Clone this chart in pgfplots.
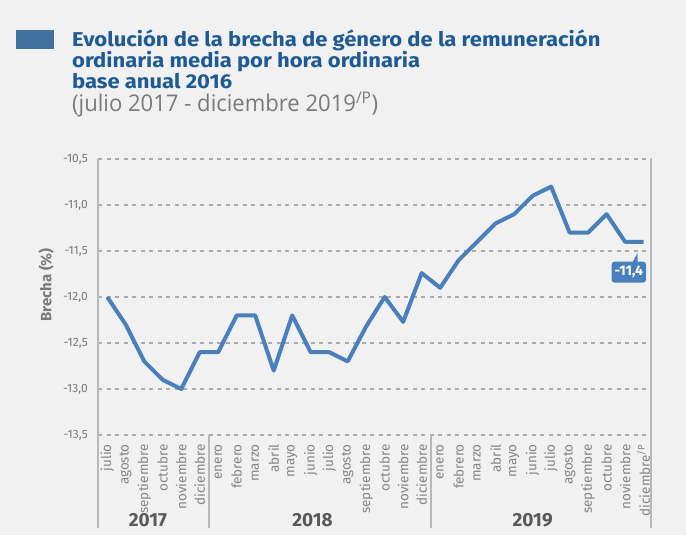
\documentclass[border=0pt]{standalone}
\usepackage{fontspec}
\setmainfont{Fira Sans}
\newfontfamily\titlefont[FakeStretch=1.1]{Fira Sans}
\newfontfamily\subfont[FakeStretch=0.96]{Open Sans}
\usepackage{pgfplots}
\pgfplotsset{compat=1.18}
\definecolor{bg}{HTML}{F1F1F1}
\definecolor{lineblue}{HTML}{4A7FBD}
\definecolor{titleblue}{HTML}{1E5B94}
\definecolor{squareblue}{HTML}{41709E}
\definecolor{txtgray}{HTML}{7A7A7A}
\definecolor{lblgray}{HTML}{858585}
\definecolor{yeargray}{HTML}{595959}
\definecolor{gridgray}{HTML}{ABABAB}
\definecolor{sepgray}{HTML}{B8B8B8}
\begin{document}
\begin{tikzpicture}
\fill[bg] (0,0) rectangle (686bp,535bp);
\fill[squareblue] (16bp,486bp) rectangle (54bp,505bp);
\tikzset{ttl/.style={anchor=base west, inner sep=0pt, text=titleblue, font=\titlefont\bfseries\fontsize{20bp}{20bp}\selectfont}}
\node[ttl] at (72bp,488bp) {Evolución de la brecha de género de la remuneración};
\node[ttl] at (72bp,467bp) {ordinaria media por hora ordinaria};
\node[ttl] at (72bp,446bp) {base anual 2016};
\node[anchor=base west, inner sep=0pt, text=txtgray, font=\subfont\fontsize{23bp}{23bp}\selectfont] at (72bp,423bp) {(julio 2017 - diciembre 2019\textsuperscript{/P})};
\node[rotate=90, text=txtgray, font=\bfseries\fontsize{15bp}{15bp}\selectfont] at (46bp,250bp) {Brecha (\%)};
\begin{axis}[
  at={(98bp,100bp)}, anchor=south west,
  width=553bp, height=276bp, scale only axis,
  xmin=-0.5, xmax=29.4, ymin=-13.5, ymax=-10.5,
  axis line style={draw=none},
  major tick length=0pt,
  ytick={-13.5,-13,-12.5,-12,-11.5,-11,-10.5},
  yticklabels={{-13,5},{-13,0},{-12,5},{-12,0},{-11,5},{-11,0},{-10,5}},
  ymajorgrids,
  grid style={gridgray, line width=1.2bp, dash pattern=on 4bp off 4.5bp},
  xtick={0,...,29},
  xticklabels={julio,agosto,septiembre,octubre,noviembre,diciembre,enero,febrero,marzo,abril,mayo,junio,julio,agosto,septiembre,octubre,noviembre,diciembre,enero,febrero,marzo,abril,mayo,junio,julio,agosto,septiembre,octubre,noviembre,diciembre\textsuperscript{/P}},
  xticklabel style={yshift=-9bp, rotate=90, anchor=east, inner sep=0pt, font=\fontsize{13.5bp}{13.5bp}\selectfont, text=lblgray},
  yticklabel style={inner sep=0pt, xshift=-10bp, anchor=east, font=\fontsize{12bp}{12bp}\selectfont, text=txtgray},
  clip=false,
]
\draw[sepgray, line width=1.5bp] (axis cs:-0.5,-10.5) -- (axis cs:-0.5,-14.51);
\draw[sepgray, line width=1.5bp] (axis cs:5.5,-13.5) -- (axis cs:5.5,-14.51);
\draw[sepgray, line width=1.5bp] (axis cs:17.5,-13.5) -- (axis cs:17.5,-14.51);
\draw[sepgray, line width=1.5bp] (axis cs:29.4,-10.5) -- (axis cs:29.4,-14.51);
\addplot[color=lineblue, line width=4bp, line join=round, mark=none] coordinates {
(0,-12.0) (1,-12.3) (2,-12.7) (3,-12.9) (4,-13.0) (5,-12.6)
(6,-12.6) (7,-12.2) (8,-12.2) (9,-12.8) (10,-12.2) (11,-12.6) (12,-12.6) (13,-12.7) (14,-12.32) (15,-12.0) (16,-12.27) (17,-11.74)
(18,-11.9) (19,-11.6) (20,-11.4) (21,-11.2) (22,-11.1) (23,-10.9) (24,-10.8) (25,-11.3) (26,-11.3) (27,-11.1) (28,-11.4) (29,-11.4)
};
\node[font=\bfseries\fontsize{19bp}{19bp}\selectfont, text=yeargray] at (axis cs:2.2,-14.43) {2017};
\node[font=\bfseries\fontsize{19bp}{19bp}\selectfont, text=yeargray] at (axis cs:11.1,-14.43) {2018};
\node[font=\bfseries\fontsize{19bp}{19bp}\selectfont, text=yeargray] at (axis cs:23.0,-14.43) {2019};
\fill[lineblue] (axis cs:28.38,-11.63) -- (axis cs:28.68,-11.52) -- (axis cs:28.68,-11.63) -- cycle;
\node[fill=lineblue, text=white, rounded corners=3bp, font=\bfseries\fontsize{14bp}{14bp}\selectfont, inner xsep=3bp, inner ysep=0pt, minimum height=21bp] at (axis cs:28.2,-11.73) {-11,4};
\end{axis}
\end{tikzpicture}
\end{document}
